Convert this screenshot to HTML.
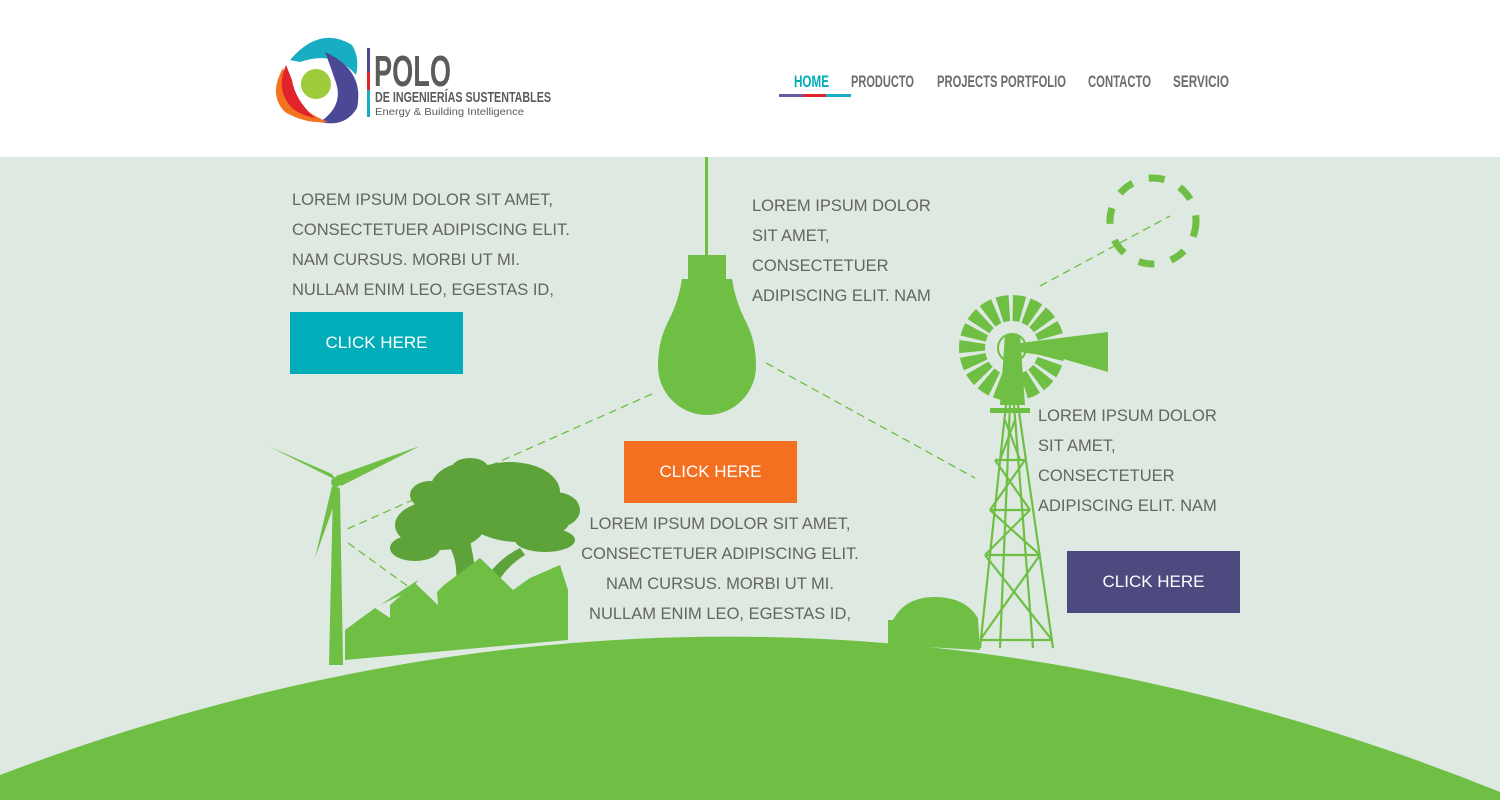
<!DOCTYPE html>
<html><head><meta charset="utf-8"><style>
html,body{margin:0;padding:0;width:1500px;height:800px;overflow:hidden;background:#fff;font-family:"Liberation Sans",sans-serif}
.hdr{position:absolute;left:0;top:0;width:1500px;height:157px;background:#fff}
.main{position:absolute;left:0;top:157px;width:1500px;height:643px;background:#dde9e1}
.txt{position:absolute;color:#646464;font-size:16.5px;line-height:30px;white-space:nowrap;font-weight:normal}
.btn{position:absolute;width:173px;height:62px;color:#fff;font-size:17px;text-align:center;line-height:62px}
svg{position:absolute;left:0;top:0}
</style></head><body>
<div class="hdr"></div>
<div class="main"></div>
<svg width="1500" height="800" viewBox="0 0 1500 800">
<!-- logo -->
<path d="M290,60 Q320,25 352,45 Q360,58 356,75 Q335,50 300,62 Z" fill="#19adc4"/>
<path d="M325,52 Q365,70 357,108 Q345,128 320,122 Q345,105 335,80 Q330,65 325,52Z" fill="#4b4996"/>
<path d="M283,68 Q268,95 285,112 Q305,124 328,122 Q298,110 290,90 Z" fill="#f47321"/>
<path d="M286,65 Q275,90 292,108 Q300,115 315,118 Q295,100 292,80Z" fill="#e1232b"/>
<circle cx="316" cy="84" r="15" fill="#9dcb3b"/>
<rect x="367" y="48" width="3" height="24" fill="#4b4996"/>
<rect x="367" y="72" width="3" height="18" fill="#e1232b"/>
<rect x="367" y="90" width="3" height="27" fill="#19adc4"/>
<text x="374" y="86" font-family="Liberation Sans,sans-serif" font-weight="bold" font-size="44" fill="#5b5b5b" textLength="77" lengthAdjust="spacingAndGlyphs">POLO</text>
<text x="375" y="102" font-family="Liberation Sans,sans-serif" font-weight="bold" font-size="15" fill="#5b5b5b" textLength="176" lengthAdjust="spacingAndGlyphs">DE INGENIERÍAS SUSTENTABLES</text>
<text x="375" y="115" font-family="Liberation Sans,sans-serif" font-size="10.5" fill="#5b5b5b" textLength="149" lengthAdjust="spacingAndGlyphs">Energy &amp; Building Intelligence</text>
<!-- nav -->
<g font-family="Liberation Sans,sans-serif" font-weight="bold" font-size="17" fill="#6d6d6d">
<text x="794" y="87" fill="#00adb9" textLength="35" lengthAdjust="spacingAndGlyphs">HOME</text>
<text x="851" y="87" textLength="63" lengthAdjust="spacingAndGlyphs">PRODUCTO</text>
<text x="937" y="87" textLength="129" lengthAdjust="spacingAndGlyphs">PROJECTS PORTFOLIO</text>
<text x="1088" y="87" textLength="63" lengthAdjust="spacingAndGlyphs">CONTACTO</text>
<text x="1173" y="87" textLength="56" lengthAdjust="spacingAndGlyphs">SERVICIO</text>
</g>
<rect x="779" y="94" width="24" height="3" fill="#6a5aa0"/>
<rect x="803" y="94" width="23" height="3" fill="#e1232b"/>
<rect x="826" y="94" width="25" height="3" fill="#19adc4"/>

<!-- ground -->
<path d="M0,775 Q750,490 1500,792 L1500,800 L0,800 Z" fill="#6fbf44"/>

<!-- dashed lines -->
<g stroke="#6fbf44" stroke-width="1.3" stroke-dasharray="8,5" fill="none">
<line x1="652" y1="394" x2="345" y2="530"/>
<line x1="766" y1="363" x2="975" y2="478"/>
<line x1="1040" y1="286" x2="1170" y2="216"/>
<line x1="348" y1="543" x2="420" y2="595"/>
</g>
<circle cx="1153" cy="221" r="43" fill="none" stroke="#6fbf44" stroke-width="7" stroke-dasharray="16,17"/>

<!-- bulb -->
<rect x="705" y="157" width="3" height="100" fill="#6fbf44"/>
<rect x="688" y="255" width="38" height="24" fill="#6fbf44"/>
<path d="M682,279 L732,279 Q735,300 745,320 Q756,340 756,366 A49,49 0 0 1 658,366 Q658,340 669,320 Q679,300 682,279Z" fill="#6fbf44"/>

<!-- wind turbine -->
<path d="M333,490 L340,490 L343,665 L329,665 Z" fill="#6fbf44"/>
<path d="M336,480 L270,447 L332,474 Z" fill="#6fbf44"/>
<path d="M336,476 L420,446 L341,486 Z" fill="#6fbf44"/>
<path d="M332,486 L315,558 L340,488 Z" fill="#6fbf44"/>
<circle cx="336" cy="482" r="5" fill="#6fbf44"/>

<!-- tree -->
<g fill="#5ea33a">
<path d="M455,600 Q460,560 448,545 L470,540 Q475,565 478,590 Q495,560 520,548 L525,555 Q500,570 490,600Z"/>
<ellipse cx="470" cy="490" rx="40" ry="28"/>
<ellipse cx="510" cy="492" rx="50" ry="30"/>
<ellipse cx="440" cy="525" rx="45" ry="25"/>
<ellipse cx="520" cy="520" rx="50" ry="22"/>
<ellipse cx="555" cy="510" rx="25" ry="18"/>
<ellipse cx="415" cy="548" rx="25" ry="13"/>
<ellipse cx="545" cy="540" rx="30" ry="12"/>
<ellipse cx="470" cy="468" rx="18" ry="10"/>
<ellipse cx="430" cy="495" rx="20" ry="14"/>
</g>
<!-- houses -->
<path d="M345,630 L375,608 L390,618 L390,605 L415,583 L438,605 L437,592 L444,585 L480,558 L513,590 L530,578 L560,565 L568,590 L568,608 L568,640 L345,660 Z" fill="#6fbf44"/>
<path d="M380,605 L418,580 L412,590Z" fill="#6fbf44"/>
<!-- dome -->
<path d="M888,645 L888,620 L893,620 Q905,597 935,597 Q965,597 978,618 L980,650 Z" fill="#6fbf44"/>

<!-- windmill -->
<g stroke="#6fbf44" stroke-width="2.2" fill="none">
<line x1="1006" y1="405" x2="980" y2="648"/>
<line x1="1018" y1="405" x2="1053" y2="648"/>
<line x1="1010" y1="405" x2="1000" y2="648"/>
<line x1="1014" y1="405" x2="1033" y2="648"/>
<line x1="995" y1="460" x2="1025" y2="460"/>
<line x1="990" y1="510" x2="1030" y2="510"/>
<line x1="985" y1="555" x2="1040" y2="555"/>
<line x1="980" y1="640" x2="1052" y2="640"/>
<line x1="995" y1="460" x2="1030" y2="510"/><line x1="1025" y1="460" x2="990" y2="510"/>
<line x1="990" y1="510" x2="1040" y2="555"/><line x1="1030" y1="510" x2="985" y2="555"/>
<line x1="985" y1="555" x2="1052" y2="640"/><line x1="1040" y1="555" x2="980" y2="640"/>
<line x1="1005" y1="420" x2="1020" y2="460"/><line x1="1015" y1="420" x2="1000" y2="460"/>
</g>
<rect x="990" y="408" width="40" height="5" fill="#6fbf44"/>
<circle cx="1012" cy="348" r="40" fill="none" stroke="#6fbf44" stroke-width="26" stroke-dasharray="10,3.5"/>
<circle cx="1012" cy="348" r="14" fill="none" stroke="#6fbf44" stroke-width="2"/>
<path d="M1005,335 L1020,335 L1025,405 L1000,405 Z" fill="#6fbf44"/>
<path d="M1020,343 L1060,338 L1108,332 L1108,372 L1060,358 L1020,352 Z" fill="#6fbf44"/>
</svg>

<div class="txt" style="left:292px;top:185px">LOREM IPSUM DOLOR SIT AMET,<br>CONSECTETUER ADIPISCING ELIT.<br>NAM CURSUS. MORBI UT MI.<br>NULLAM ENIM LEO, EGESTAS ID,</div>
<div class="txt" style="left:752px;top:191px">LOREM IPSUM DOLOR<br>SIT AMET,<br>CONSECTETUER<br>ADIPISCING ELIT. NAM</div>
<div class="txt" style="left:1038px;top:401px">LOREM IPSUM DOLOR<br>SIT AMET,<br>CONSECTETUER<br>ADIPISCING ELIT. NAM</div>
<div class="txt" style="left:570px;top:509px;width:300px;text-align:center">LOREM IPSUM DOLOR SIT AMET,<br>CONSECTETUER ADIPISCING ELIT.<br>NAM CURSUS. MORBI UT MI.<br>NULLAM ENIM LEO, EGESTAS ID,</div>

<div class="btn" style="left:290px;top:312px;background:#00adb9">CLICK HERE</div>
<div class="btn" style="left:624px;top:441px;background:#f37021">CLICK HERE</div>
<div class="btn" style="left:1067px;top:551px;background:#4d4a7f">CLICK HERE</div>
</body></html>
